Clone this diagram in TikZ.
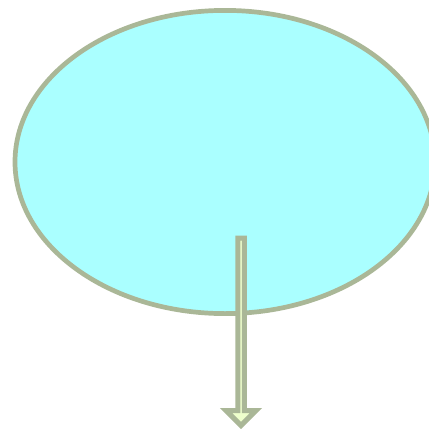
\documentclass[tikz,border=0pt]{standalone}
\usetikzlibrary{shapes.geometric,calc}
\definecolor{edgegreen}{HTML}{AAB797}
\definecolor{bodycyan}{HTML}{AAFFFF}
\definecolor{tipfill}{HTML}{EEFFCC}
\tikzset{
  blob/.style={ellipse, draw=edgegreen, fill=bodycyan, line width=4.7pt,
    minimum width=420pt, minimum height=303.2pt, inner sep=0pt},
  blockarrow/.style={draw=edgegreen, fill=tipfill, line width=5pt, line join=miter, miter limit=10}
}
\begin{document}
\begin{tikzpicture}[x=1pt,y=-1pt]
\useasboundingbox (0,0) rectangle (429,429);
\clip (0,0) rectangle (429,429);
\node[blob] (e) at (225,162) {};
\coordinate (s) at (241,238.2);
\coordinate (t) at (241,425.5);
\draw[blockarrow]
  ($(s)+(-3.25,0)$) -- ($(s)+(3.25,0)$) -- ($(t)+(3.25,-15)$) -- ($(t)+(15,-15)$)
  -- (t) -- ($(t)+(-15,-15)$) -- ($(t)+(-3.25,-15)$) -- cycle;
\end{tikzpicture}
\end{document}
